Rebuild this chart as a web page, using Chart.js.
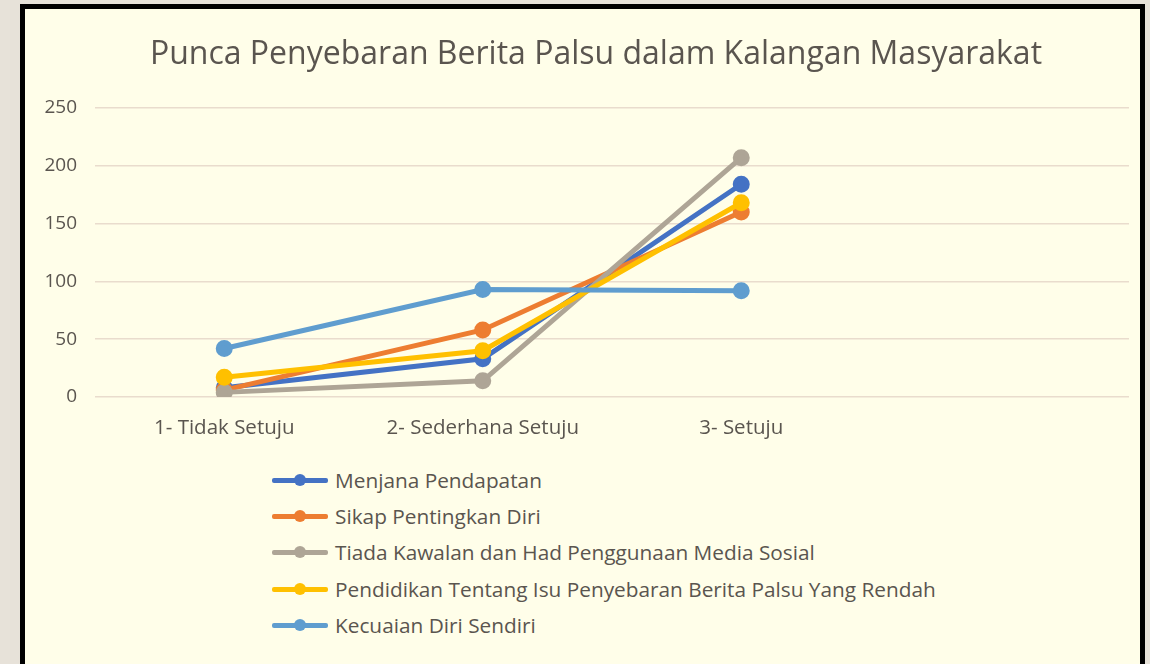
<!DOCTYPE html>
<html>
<head>
<meta charset="utf-8">
<script src="https://cdn.jsdelivr.net/npm/chart.js@4/dist/chart.umd.min.js"></script>
<style>
  html, body { margin: 0; padding: 0; }
  body { width: 1150px; height: 664px; background: #e7e2d9; overflow: hidden; position: relative; font-family: "Open Sans", sans-serif; }
  #frame { position: absolute; left: 20px; top: 4px; width: 1115px; height: 680px; border: 5px solid #000; background: #fffee9; }
  #wrap { position: absolute; left: 0; top: 0; width: 1115px; height: 440px; }
  #title { position: absolute; left: 0; top: 25px; width: 1142px; line-height: 36px; text-align: center; font-size: 32px; color: #5a554f; white-space: nowrap; }
  #legend { position: absolute; left: 247px; top: 453px; margin: 0; padding: 0; list-style: none; }
  #legend li { height: 36.2px; display: flex; align-items: center; color: #5a554f; font-size: 20.8px; white-space: nowrap; }
  #legend .mk { position: relative; width: 56px; height: 12px; margin-right: 7px; }
  #legend .mk .ln { position: absolute; left: 0; top: 4px; width: 56px; height: 5px; border-radius: 2px; }
  #legend .mk .dt { position: absolute; left: 22px; top: 0; width: 12px; height: 12px; border-radius: 50%; }
</style>
</head>
<body>
<div id="frame">
  <div id="wrap"><canvas id="chart"></canvas></div>
  <div id="title"></div>
  <ul id="legend"></ul>
</div>
<script>
const title = 'Punca Penyebaran Berita Palsu dalam Kalangan Masyarakat';
const categories = ['1- Tidak Setuju', '2- Sederhana Setuju', '3- Setuju', ''];
const seriesNames = [
  'Menjana Pendapatan',
  'Sikap Pentingkan Diri',
  'Tiada Kawalan dan Had Penggunaan Media Sosial',
  'Pendidikan Tentang Isu Penyebaran Berita Palsu Yang Rendah',
  'Kecuaian Diri Sendiri'
];
const menjana = [8, 33, 184];
const sikap = [6, 58, 160];
const tiada = [4, 14, 207];
const pendidikan = [17, 40, 168];
const kecuaian = [42, 93, 92];
const colors = ['#4472c4', '#ed7d31', '#aea596', '#ffc000', '#5f9dcf'];

const textColor = '#5a554f';
const allData = [menjana, sikap, tiada, pendidikan, kecuaian];

const datasets = allData.map((d, i) => ({
  label: seriesNames[i],
  data: d,
  borderColor: colors[i],
  backgroundColor: colors[i],
  pointBackgroundColor: colors[i],
  pointBorderColor: colors[i],
  borderWidth: 5,
  pointRadius: 6,
  pointHoverRadius: 6,
  tension: 0,
  order: allData.length - i
}));

const ctx = document.getElementById('chart');
const chart = new Chart(ctx, {
  type: 'line',
  data: { labels: categories, datasets: datasets },
  options: {
    responsive: true,
    maintainAspectRatio: false,
    animation: false,
    layout: { padding: { left: 0, right: 0, top: 99, bottom: 0 } },
    scales: {
      x: {
        offset: true,
        grid: { display: false, drawTicks: false },
        border: { display: false },
        ticks: { color: textColor, font: { family: 'Open Sans', size: 20.5 }, padding: 19, autoSkip: false, maxRotation: 0 },
        afterFit: (s) => { s.height = 52; }
      },
      y: {
        min: 0,
        max: 250,
        ticks: { stepSize: 50, color: textColor, font: { family: 'Open Sans', size: 19 }, padding: 18 },
        grid: { color: '#e9dccd', lineWidth: 1.5, drawTicks: false },
        border: { display: false },
        afterFit: (s) => { s.width = 70; }
      }
    },
    plugins: {
      legend: { display: false },
      tooltip: { enabled: false },
      title: { display: false }
    }
  }
});

// title sits a little right of the canvas centre in the original, so it is placed by hand
document.getElementById('title').textContent = title;

// legend as a vertical list under the chart, like the original
const legendEl = document.getElementById('legend');
chart.data.datasets.forEach((ds) => {
  const li = document.createElement('li');
  li.innerHTML = '<span class="mk"><span class="ln" style="background:' + ds.borderColor +
    '"></span><span class="dt" style="background:' + ds.borderColor + '"></span></span>' +
    '<span>' + ds.label + '</span>';
  legendEl.appendChild(li);
});
</script>
</body>
</html>
